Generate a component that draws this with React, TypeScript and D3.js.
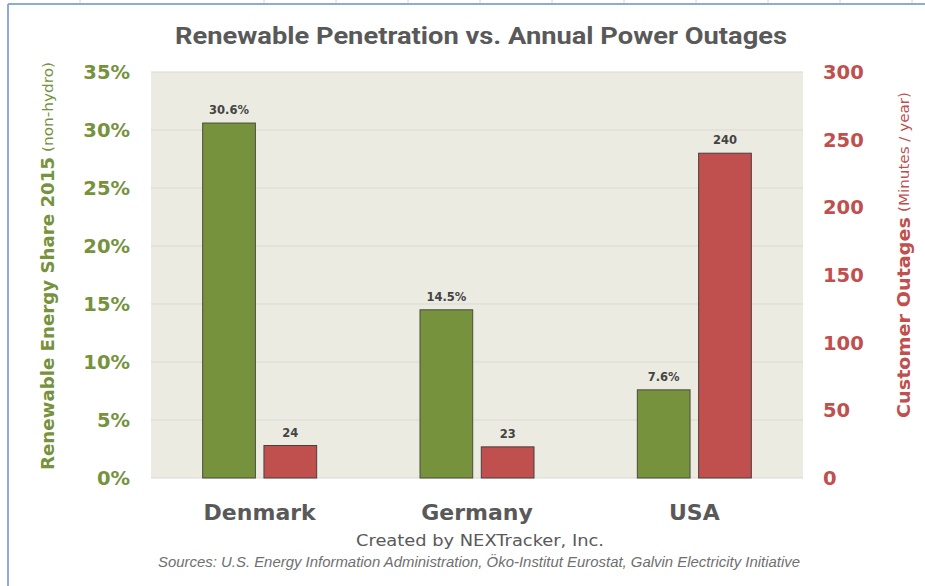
import React, { useEffect } from 'react';
import * as d3 from 'd3';

// Chart data
const countries = ['Denmark', 'Germany', 'USA'];
const renewableShare = [30.6, 14.5, 7.6]; // % of generation, non-hydro
const outageMinutes = [24, 23, 240]; // minutes / year
const shareTicks = [0, 5, 10, 15, 20, 25, 30, 35];
const outageTicks = [0, 50, 100, 150, 200, 250, 300];
const sheetColumns = [80, 264, 336, 408, 480, 552, 624, 696, 768, 840, 912];

const W = 925;
const H = 586;
const plot = { left: 151, right: 803, top: 72, bottom: 478 };

const GREEN = '#76923c';
const RED = '#c0504d';
const GREY = '#595959';
const SANS = '"DejaVu Sans", "Open Sans", sans-serif';

const App: React.FC = () => {
  useEffect(() => {
    document.body.style.margin = '0';
  }, []);

  const x = d3.scaleBand<string>().domain(countries).range([plot.left, plot.right]);
  const inner = d3.scaleBand<string>().domain(['share', 'outage']).range([0, 114]).paddingInner(0.14);
  const groupOffset = (x.bandwidth() - 114) / 2;

  const yShare = d3.scaleLinear().domain([0, 35]).range([plot.bottom, plot.top]);
  const yOutage = d3.scaleLinear().domain([0, 300]).range([plot.bottom, plot.top]);

  return (
    <svg width={W} height={H} style={{ display: 'block', background: '#fff' }}>
      {/* spreadsheet frame behind the chart */}
      {sheetColumns.map(c => (
        <line key={c} x1={c} x2={c} y1={0} y2={3} stroke="#d4d4d4" />
      ))}
      <line x1={8} x2={W} y1={4} y2={4} stroke="#8eaadb" strokeWidth={2} />
      <line x1={8} x2={8} y1={4} y2={H} stroke="#8eaadb" strokeWidth={2} />

      {/* title */}
      <text x={481} y={44} textAnchor="middle" fontFamily="Roboto, sans-serif" fontWeight={700}
        fontSize={24} fill={GREY} textLength={612} lengthAdjust="spacingAndGlyphs">
        Renewable Penetration vs. Annual Power Outages
      </text>

      {/* plot background + grid */}
      <rect x={plot.left} y={plot.top} width={plot.right - plot.left} height={plot.bottom - plot.top} fill="#ecebe2" />
      {shareTicks.map(t => (
        <line key={t} x1={plot.left} x2={plot.right} y1={yShare(t)} y2={yShare(t)} stroke="#d9d9d3" strokeWidth={1} />
      ))}

      {/* bars */}
      {countries.map((c, i) => {
        const gx = (x(c) ?? 0) + groupOffset;
        const bw = inner.bandwidth();
        const sx = gx + (inner('share') ?? 0);
        const ox = gx + (inner('outage') ?? 0);
        return (
          <g key={c}>
            <rect x={sx} y={yShare(renewableShare[i])} width={bw} height={plot.bottom - yShare(renewableShare[i])}
              fill={GREEN} stroke="#4b4b3c" strokeWidth={1} />
            <rect x={ox} y={yOutage(outageMinutes[i])} width={bw} height={plot.bottom - yOutage(outageMinutes[i])}
              fill={RED} stroke="#4b3c3c" strokeWidth={1} />
            <text x={sx + bw / 2} y={yShare(renewableShare[i]) - 9} textAnchor="middle" fontFamily={SANS}
              fontSize={11.5} fontWeight={600} fill="#444">
              {renewableShare[i].toFixed(1)}%
            </text>
            <text x={ox + bw / 2} y={yOutage(outageMinutes[i]) - 9} textAnchor="middle" fontFamily={SANS}
              fontSize={11.5} fontWeight={600} fill="#444">
              {outageMinutes[i]}
            </text>
            <text x={(x(c) ?? 0) + x.bandwidth() / 2} y={520} textAnchor="middle" fontFamily={SANS}
              fontSize={22} fontWeight={700} fill={GREY}>
              {c}
            </text>
          </g>
        );
      })}

      {/* left axis */}
      {shareTicks.map(t => (
        <text key={t} x={130} y={yShare(t) + 7} textAnchor="end" fontFamily={SANS} fontSize={19.5}
          fontWeight={700} fill={GREEN}>
          {t}%
        </text>
      ))}
      <g transform="translate(54,470) rotate(-90)">
        <text x={0} y={0} fontFamily={SANS} fontSize={17} fontWeight={700} fill={GREEN}
          textLength={313} lengthAdjust="spacingAndGlyphs">
          Renewable Energy Share 2015
        </text>
        <text x={318} y={-1} fontFamily={SANS} fontSize={14} fill={GREEN}
          textLength={90} lengthAdjust="spacingAndGlyphs">
          (non-hydro)
        </text>
      </g>

      {/* right axis */}
      {outageTicks.map(t => (
        <text key={t} x={823} y={yOutage(t) + 7} textAnchor="start" fontFamily={SANS} fontSize={19.5}
          fontWeight={700} fill={RED}>
          {t}
        </text>
      ))}
      <g transform="translate(910,418) rotate(-90)">
        <text x={0} y={0} fontFamily={SANS} fontSize={17} fontWeight={700} fill={RED}
          textLength={201} lengthAdjust="spacingAndGlyphs">
          Customer Outages
        </text>
        <text x={206} y={-1} fontFamily={SANS} fontSize={14} fill={RED}
          textLength={120} lengthAdjust="spacingAndGlyphs">
          (Minutes / year)
        </text>
      </g>

      {/* credits */}
      <text x={480} y={546} textAnchor="middle" fontFamily={SANS} fontSize={16} fill={GREY}
        textLength={248} lengthAdjust="spacingAndGlyphs">
        Created by NEXTracker, Inc.
      </text>
      <text x={479} y={567} textAnchor="middle" fontFamily='"Liberation Sans Narrow", "Liberation Sans", sans-serif'
        fontStyle="italic" fontSize={15} fill="#6f6f6f" textLength={642} lengthAdjust="spacingAndGlyphs">
        Sources: U.S. Energy Information Administration,  Öko-Institut Eurostat, Galvin Electricity Initiative
      </text>
    </svg>
  );
};

export default App;
